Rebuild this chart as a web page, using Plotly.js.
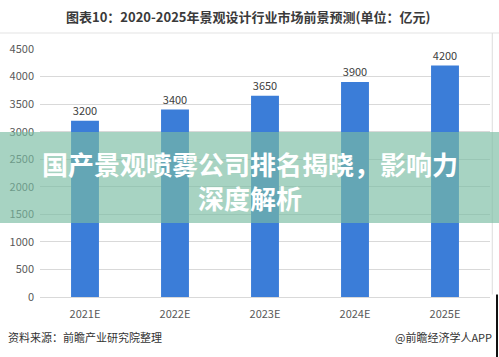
<!DOCTYPE html>
<html>
<head>
<meta charset="utf-8">
<script src="https://cdn.plot.ly/plotly-3.0.1.min.js"></script>
<style>html,body{margin:0;padding:0;background:#fff;}#chart{width:499px;height:357px;}</style>
</head>
<body>
<div id="chart"></div>
<script>
const categories = ["2021E", "2022E", "2023E", "2024E", "2025E"];
const marketValues = [3200, 3400, 3650, 3900, 4200];
const yTicks = [0, 500, 1000, 1500, 2000, 2500, 3000, 3500, 4000, 4500];
const chartTitle = "图表10：2020-2025年景观设计行业市场前景预测(单位：亿元)";
const bannerLine1 = "国产景观喷雾公司排名揭晓，影响力";
const bannerLine2 = "深度解析";
const sourceText = "资料来源：前瞻产业研究院整理";
const brandText = "@前瞻经济学人APP";

const FONT = '"Noto Sans CJK SC", "Noto Sans", sans-serif';

const trace = {
  type: "bar",
  x: categories,
  y: marketValues,
  width: 0.31,
  marker: {color: "#3b7dd8"},
  text: marketValues.map(String),
  textposition: "outside",
  textfont: {family: FONT, size: 11, color: "#404040"},
  cliponaxis: false,
  hoverinfo: "skip"
};

const layout = {
  width: 499,
  height: 357,
  margin: {l: 40, r: 9, t: 49, b: 60},
  paper_bgcolor: "#ffffff",
  plot_bgcolor: "#ffffff",
  showlegend: false,
  font: {family: FONT, color: "#595959", size: 11},
  xaxis: {
    type: "category",
    showgrid: false,
    zeroline: false,
    showline: false,
    ticks: "",
    ticklabelstandoff: 9,
    tickfont: {family: FONT, size: 11, color: "#595959"},
    fixedrange: true
  },
  yaxis: {
    range: [0, 4500],
    tickvals: yTicks,
    ticktext: yTicks.map(String),
    showgrid: true,
    gridcolor: "#d9d9d9",
    gridwidth: 1,
    zeroline: true,
    zerolinecolor: "#d9d9d9",
    showline: false,
    ticks: "",
    ticklabelstandoff: 5,
    tickfont: {family: FONT, size: 11, color: "#595959"},
    fixedrange: true
  },
  shapes: [
    {type: "line", xref: "paper", yref: "paper", x0: -0.0889, x1: 1.02, y0: 1.0645, y1: 1.0645,
     line: {color: "#e3e3e3", width: 1}},
    {type: "line", xref: "paper", yref: "paper", x0: 1.005, x1: 1.005, y0: 1.0645, y1: 0.01,
     line: {color: "#dcdcdc", width: 1}},
    {type: "line", xref: "paper", yref: "paper", x0: 1.0156, x1: 1.0156, y0: 0.01, y1: -0.25,
     line: {color: "#111111", width: 2}},
    {type: "rect", xref: "paper", yref: "paper", x0: -0.0889, x1: 1.02, y0: 0.298, y1: 0.665,
     fillcolor: "rgba(122,188,162,0.66)", line: {width: 0}, layer: "above"}
  ],
  annotations: [
    {text: "<b>" + chartTitle + "</b>", xref: "paper", yref: "paper", x: 0.462, y: 1.133,
     xanchor: "center", yanchor: "middle", showarrow: false,
     font: {family: FONT, size: 13, color: "#3a3a3a"}},
    {text: "<b>" + bannerLine1 + "</b>", xref: "paper", yref: "paper", x: 0.467, y: 0.537,
     xanchor: "center", yanchor: "middle", showarrow: false,
     font: {family: FONT, size: 26, color: "#ffffff"}},
    {text: "<b>" + bannerLine2 + "</b>", xref: "paper", yref: "paper", x: 0.467, y: 0.403,
     xanchor: "center", yanchor: "middle", showarrow: false,
     font: {family: FONT, size: 26, color: "#ffffff"}},
    {text: sourceText, xref: "paper", yref: "paper", x: -0.0756, y: -0.161,
     xanchor: "left", yanchor: "middle", showarrow: false,
     font: {family: FONT, size: 11, color: "#333333"}},
    {text: brandText, xref: "paper", yref: "paper", x: 1.009, y: -0.161,
     xanchor: "right", yanchor: "middle", showarrow: false,
     font: {family: FONT, size: 11, color: "#333333"}}
  ]
};

Plotly.newPlot("chart", [trace], layout, {displayModeBar: false, staticPlot: true});
</script>
</body>
</html>
